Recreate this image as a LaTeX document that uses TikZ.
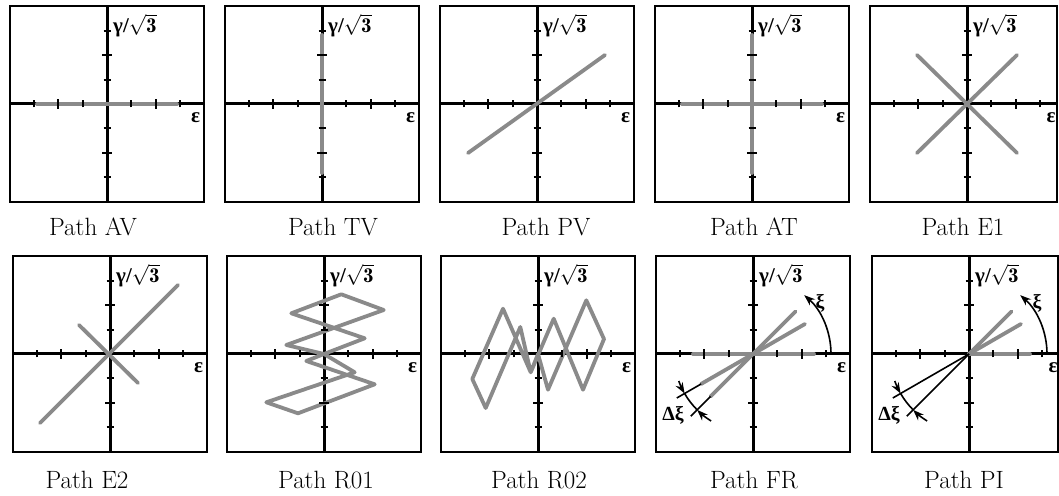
\documentclass[tikz,border=0pt]{standalone}
\usepackage{amsmath}
\usepackage{fontspec}
\newfontfamily\grk{Liberation Serif}
\usetikzlibrary{arrows.meta}
\definecolor{pathgray}{RGB}{138,138,138}
\tikzset{
  boxline/.style={line width=2pt},
  axisline/.style={line width=3pt},
  tickline/.style={line width=1.9pt},
  graypath/.style={line width=3.8pt, draw=pathgray, line join=round, line cap=round},
  thinblack/.style={line width=1.6pt},
  tipped/.style={line width=1.6pt, -{Stealth[length=11pt,width=8pt]}},
  pathlabel/.style={anchor=base, inner sep=0pt, font=\fontsize{25}{30}\selectfont},
  axlabel/.style={inner sep=0pt, font=\fontsize{21}{25}\selectfont},
  anglabel/.style={inner sep=0pt, font=\grk\bfseries\fontsize{20}{24}\selectfont},
}
\def\redge{97}
\def\epsx{88.5}
\newcommand\panelframe{%
  \draw[boxline] (-97,-98) rectangle (\redge,98);
  \draw[axisline] (-97,0) -- (\redge,0);
  \draw[axisline] (0,-98) -- (0,98);
}
\newcommand\panelmarks{%
  \foreach \tk in {-73.2,-24.4,24.4,73.2}{%
    \draw[tickline] (\tk,-3.5) -- (\tk,3.5);
    \draw[tickline] (-3.5,\tk) -- (3.5,\tk);
  }%
  \foreach \tk in {-48.8,48.8}{%
    \draw[tickline] (\tk,-5) -- (\tk,5);
    \draw[tickline] (-5,\tk) -- (5,\tk);
  }%
  \node[axlabel, anchor=base west] at (6,71) {{\grk\bfseries γ/}\smash{$\sqrt{\mathbf{3}}$}};
  \node[axlabel] at (\epsx,-13.5) {\grk\bfseries ε};
}
\newcommand\fanmarks{%
  \draw[tipped] (78,0) arc[start angle=0,end angle=49,radius=78];
  \draw[tipped] (200:79) arc[start angle=200,end angle=210,radius=79];
  \draw[thinblack] (210:79) arc[start angle=210,end angle=225,radius=79];
  \draw[tipped] (238:79) arc[start angle=238,end angle=225,radius=79];
}
\begin{document}
\begin{tikzpicture}[x=1pt,y=1pt]
\useasboundingbox (0,0) rectangle (1059,495);
% ---------- row 1 ----------
\begin{scope}[shift={(107,391)}]
  \panelframe
  \draw[graypath] (-70,0) -- (70,0);
  \panelmarks
\end{scope}
\begin{scope}[shift={(322,391)}]
  \panelframe
  \draw[graypath] (0,-69) -- (0,69);
  \panelmarks
\end{scope}
\begin{scope}[shift={(537,391)}]
  \panelframe
  \draw[graypath] (-69,-49) -- (68,49);
  \panelmarks
\end{scope}
\begin{scope}[shift={(752,391)}]
  \panelframe
  \draw[graypath] (-70,0) -- (70,0);
  \draw[graypath] (0,-69) -- (0,69);
  \panelmarks
\end{scope}
\def\redge{90}\def\epsx{84}
\begin{scope}[shift={(967,391)}]
  \panelframe
  \draw[graypath] (-50,-49) -- (50,49);
  \draw[graypath] (-50,49) -- (50,-49);
  \panelmarks
\end{scope}
\def\redge{97}\def\epsx{88.5}
% ---------- row 2 ----------
\begin{scope}[shift={(110,141)}]
  \panelframe
  \draw[graypath] (-70,-69) -- (68,69);
  \draw[graypath] (-31,29) -- (28,-29);
  \panelmarks
\end{scope}
\begin{scope}[shift={(324,141)}]
  \panelframe
  \draw[graypath] (0,0) -- (40.7,15.7) -- (-32.7,40.7) -- (17.3,59.7) -- (59.7,44) -- (-37.7,9) -- (0,0) -- (30.7,-18.3) -- (-57.7,-48.3) -- (-26,-59.3) -- (50.7,-30.3) -- (-17.7,-7) -- cycle;
  \panelmarks
\end{scope}
\begin{scope}[shift={(538,141)}]
  \panelframe
  \draw[graypath] (-7.3,-18.3) -- (-35,45.3) -- (-65.7,-25) -- (-52.3,-54) -- (-17.7,27) -- (-7.3,-18.3) -- (15.7,35.3) -- (45,-35.7) -- (66,15) -- (48.3,53.7) -- (10,-35.7) -- (0,0) -- cycle;
  \panelmarks
\end{scope}
\begin{scope}[shift={(753,141)}]
  \panelframe
  \draw[graypath] (-60,0) -- (61,0);
  \draw[graypath] (210:60) -- (30:60);
  \draw[graypath] (225:60) -- (45:60);
  \draw[thinblack] (210:60) -- (210:88);
  \draw[thinblack] (225:60) -- (225:88);
  \fanmarks
  \node[anglabel] (frxi) at (67,51) {ξ};
  \node[anglabel] (frdxi) at (-80,-61) {Δξ};
  \panelmarks
\end{scope}
\def\redge{89}\def\epsx{84}
\begin{scope}[shift={(969,141)}]
  \panelframe
  \draw[graypath] (0,0) -- (61,0);
  \draw[graypath] (0,0) -- (30:60);
  \draw[graypath] (0,0) -- (45:60);
  \draw[thinblack] (0,0) -- (210:88);
  \draw[thinblack] (0,0) -- (225:88);
  \fanmarks
  \node[anglabel] (pixi) at (68,51) {ξ};
  \node[anglabel] (pidxi) at (-80,-61) {Δξ};
  \panelmarks
\end{scope}
% ---------- captions ----------
\node[pathlabel] (lav) at (93,259) {Path AV};
\node[pathlabel] (ltv) at (333,259) {Path TV};
\node[pathlabel] (lpv) at (546,259) {Path PV};
\node[pathlabel] (lat) at (754,259) {Path AT};
\node[pathlabel] (leone) at (963,259) {Path E1};
\node[pathlabel] (letwo) at (87,7) {Path E2};
\node[pathlabel] (lrone) at (326,7) {Path R01};
\node[pathlabel] (lrtwo) at (539,7) {Path R02};
\node[pathlabel] (lfr) at (754,7) {Path FR};
\node[pathlabel] (lpi) at (964,7) {Path PI};
\end{tikzpicture}
\end{document}
